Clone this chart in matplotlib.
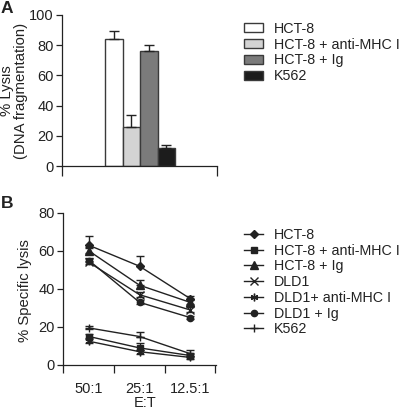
import matplotlib
matplotlib.use("Agg")
import matplotlib.pyplot as plt
from matplotlib.lines import Line2D
from matplotlib.patches import Patch

plt.rcParams['font.family'] = ['Liberation Sans', 'DejaVu Sans']
plt.rcParams['font.size'] = 10

# Panel A data
bar_labels = ["HCT-8", "HCT-8 + anti-MHC I", "HCT-8 + Ig", "K562"]
bar_values = [84, 26, 76, 12]
bar_errors = [5.5, 8, 4, 2]
bar_colors = ["#ffffff", "#d3d3d3", "#7b7b7b", "#1c1c1c"]

# Panel B data
et_labels = ["50:1", "25:1", "12.5:1"]
series_labels = ["HCT-8", "HCT-8 + anti-MHC I", "HCT-8 + Ig", "DLD1",
                 "DLD1+ anti-MHC I", "DLD1 + Ig", "K562"]
series_markers = ["D", "s", "^", "x", (6, 2, 0), "o", "+"]
hct8 = [63, 52, 35]
hct8_mhc = [15, 9, 5]
hct8_ig = [60, 42, 33]
dld1 = [54, 37, 29]
dld1_mhc = [12.5, 7, 4]
dld1_ig = [55, 33, 25]
k562 = [19.5, 15, 6]
series_values = [hct8, hct8_mhc, hct8_ig, dld1, dld1_mhc, dld1_ig, k562]
err_up = [[5, 5.5, 1.5], [1.5, 2.5, 1.5], [1.5, 2.5, 1.5], [1, 1.5, 1.5],
          [1, 1, 1], [1.5, 1, 1], [1.2, 2.5, 2]]
err_lo = [[1, 0, 1], [1, 1, 1], [1, 0, 1], [1, 1, 1], [1, 1, 1], [1, 1, 1], [0.5, 0.5, 1]]

W, H = 401, 413
fig = plt.figure(figsize=(W / 100, H / 100), dpi=100)
INK = '#222222'

def style_axes(ax):
    ax.spines['top'].set_visible(False)
    ax.spines['right'].set_visible(False)
    for s in ('left', 'bottom'):
        ax.spines[s].set_linewidth(0.9)
        ax.spines[s].set_color(INK)
    ax.tick_params(axis='y', direction='out', length=4, width=0.9,
                   colors=INK, labelcolor=INK, labelsize=10.5, pad=2)

def ms_for(m):
    return 4.5 if m in ("D", "s", "o") else 5.5

# ---- Panel A ----
axA = fig.add_axes([62 / W, 1 - 166 / H, 155 / W, 151 / H])
style_axes(axA)
xs = list(range(len(bar_values)))
axA.bar(xs, bar_values, width=1.0, color=bar_colors, edgecolor='#3a3a3a',
        linewidth=1.0, zorder=2)
axA.errorbar(xs, bar_values, yerr=[[0] * 4, bar_errors], fmt='none',
             ecolor=INK, elinewidth=1.0, capsize=3.5, capthick=1.0, zorder=3)
x0 = -2.97
x1 = x0 + 155 / 17.5
axA.set_xlim(x0, x1)
axA.set_ylim(0, 100)
axA.set_yticks([0, 20, 40, 60, 80, 100])
axA.set_xticks([x0, x1])
axA.set_xticklabels(["", ""])
axA.tick_params(axis='x', direction='out', length=7, width=0.9, colors=INK)
fig.text(14 / W, 1 - 91 / H, "% Lysis\n(DNA fragmentation)", rotation=90,
         fontsize=10.7, ha='center', va='center', linespacing=1.08,
         multialignment='center', color=INK)
handlesA = [Patch(facecolor=c, edgecolor='#3a3a3a', linewidth=1.0) for c in bar_colors]
fig.legend(handlesA, bar_labels, loc='upper left',
           bbox_to_anchor=(244 / W, 1 - 22 / H), frameon=False, fontsize=10.3,
           borderpad=0, borderaxespad=0, handlelength=1.35, handleheight=0.6,
           handletextpad=0.75, labelspacing=0.12, labelcolor=INK)

# ---- Panel B ----
axB = fig.add_axes([63 / W, 1 - 365 / H, 153 / W, 152 / H])
style_axes(axB)
pos = list(range(len(et_labels)))
for vals, m, lab, eu, el in zip(series_values, series_markers, series_labels, err_up, err_lo):
    axB.errorbar(pos, vals, yerr=[el, eu], color=INK, marker=m,
                 markersize=ms_for(m), markeredgewidth=1.0, linewidth=1.0,
                 elinewidth=1.0, capsize=3, capthick=1.0, label=lab,
                 clip_on=False)
bx0, bx1 = -0.515, 2.515
axB.set_xlim(bx0, bx1)
axB.set_ylim(0, 80)
axB.set_yticks([0, 20, 40, 60, 80])
axB.set_xticks(pos)
axB.set_xticklabels(et_labels)
axB.set_xticks([bx0, 0.5, 1.5, 2.5], minor=True)
axB.tick_params(axis='x', which='major', length=0, pad=12, labelsize=10.5,
                labelcolor=INK)
axB.tick_params(axis='x', which='minor', direction='out', length=6, width=0.9,
                colors=INK)
axB.set_xlabel("E:T", fontsize=10.5, labelpad=8, color=INK)
axB.xaxis.set_label_coords(0.536, -0.205)
fig.text(25 / W, 1 - 291 / H, "% Specific lysis", rotation=90,
         fontsize=10.7, ha='center', va='center', color=INK)
handlesB = []
for m in series_markers:
    handlesB.append(Line2D([], [], color=INK, marker=m, markersize=ms_for(m),
                           markeredgewidth=1.0, linewidth=1.0))
fig.legend(handlesB, series_labels, loc='upper left',
           bbox_to_anchor=(244 / W, 1 - 228 / H), frameon=False, fontsize=10.3,
           borderpad=0, borderaxespad=0, handlelength=1.35,
           handletextpad=0.75, labelspacing=0.12, labelcolor=INK)

fig.text(1 / W, 1 - 1 / H, "A", fontsize=12.5, fontweight='bold', va='top', ha='left', color=INK)
fig.text(1 / W, 1 - 196 / H, "B", fontsize=12.5, fontweight='bold', va='top', ha='left', color=INK)

fig.savefig("out.png", dpi=100)
